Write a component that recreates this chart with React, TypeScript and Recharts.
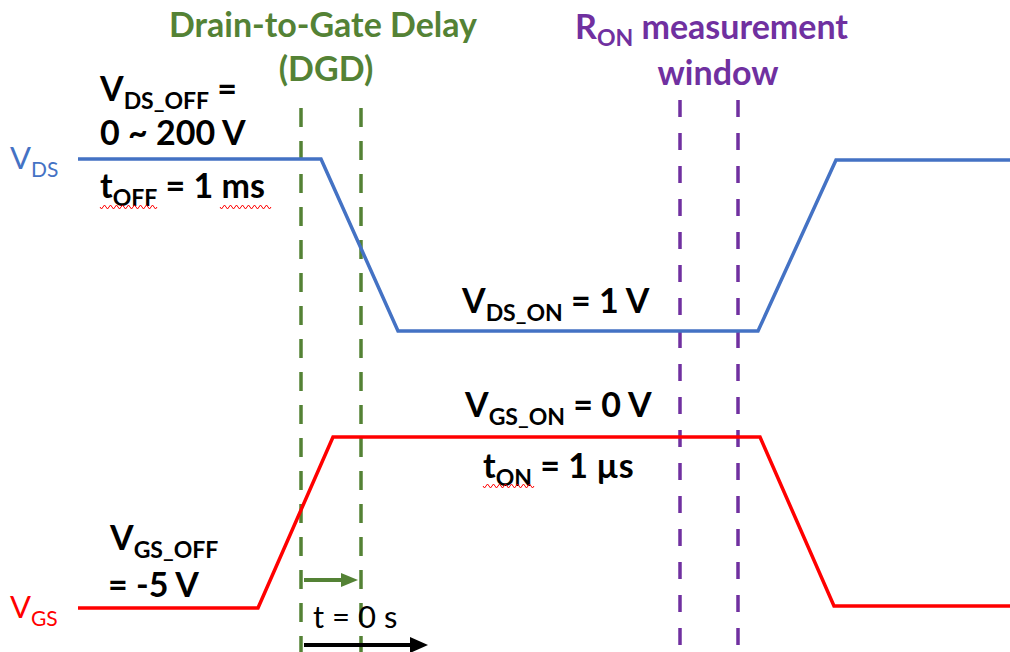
import { LineChart, Line, XAxis, YAxis, ReferenceLine, ReferenceDot } from 'recharts';

// waveform corners: time position / level
const vdsTime = [78, 321, 398, 758, 836, 1010];
const vdsLevel = [493, 493, 321, 321, 492, 492];
const vgsTime = [78, 258, 333, 760, 834, 1010];
const vgsLevel = [44, 44, 215, 215, 46, 46];

// dashed markers
const dgdEdges = [301, 361];
const ronEdges = [680, 738];

const vdsData = vdsTime.map((t, i) => ({ t, v: vdsLevel[i] }));
const vgsData = vgsTime.map((t, i) => ({ t, v: vgsLevel[i] }));

const BLUE = '#4472C4';
const RED = '#FF0000';
const GREEN = '#548235';
const PURPLE = '#7030A0';
const FONT = 'Lato, "Open Sans", sans-serif';

type Part = { t: string; sub?: boolean };

const Tag = (props: any) => {
	const { cx, cy, parts, color = '#000', size = 34, sub = 23, drop = 8, weight = 700, anchor = 'start' } = props;
	const out: any[] = [];
	let low = false;
	parts.forEach((p: Part, i: number) => {
		let dy = 0;
		if (p.sub && !low) dy = drop;
		if (!p.sub && low) dy = -drop;
		low = !!p.sub;
		out.push(
			<tspan key={i} dy={dy} fontSize={p.sub ? sub : size}>
				{p.t}
			</tspan>
		);
	});
	return (
		<text
			x={cx}
			y={cy}
			fill={color}
			fontFamily={FONT}
			fontWeight={weight}
			fontSize={size}
			textAnchor={anchor}
			style={{ whiteSpace: 'pre' }}
		>
			{out}
		</text>
	);
};

const Squiggle = (props: any) => {
	const { cx, cy, w } = props;
	let d = `M${cx},${cy}`;
	for (let i = 0; i < w; i += 3) d += ` l1.5,${(i / 3) % 2 === 0 ? 2 : -2} l1.5,${(i / 3) % 2 === 0 ? -2 : 2}`;
	return <path d={d} fill="none" stroke={RED} strokeWidth={1} />;
};

const Arrow = (props: any) => {
	const { x1, y1, x2, color, head = 17, half = 7, width = 4 } = props;
	return (
		<g>
			<line x1={x1} y1={y1} x2={x2 - head + 2} y2={y1} stroke={color} strokeWidth={width} />
			<polygon points={`${x2},${y1} ${x2 - head},${y1 - half} ${x2 - head},${y1 + half}`} fill={color} />
		</g>
	);
};

const labels: { x: number; y: number; parts: Part[]; color?: string; size?: number; sub?: number; drop?: number; weight?: number; anchor?: string }[] = [
	{ x: 323, y: 615, parts: [{ t: 'Drain-to-Gate Delay' }], color: GREEN, size: 34, anchor: 'middle' },
	{ x: 326, y: 571, parts: [{ t: '(DGD)' }], color: GREEN, size: 34, anchor: 'middle' },
	{ x: 575, y: 613, parts: [{ t: 'R' }, { t: 'ON', sub: true }, { t: ' measurement' }], color: PURPLE, size: 34, sub: 23, drop: 7 },
	{ x: 718, y: 567, parts: [{ t: 'window' }], color: PURPLE, size: 34, anchor: 'middle' },
	{ x: 10, y: 483, parts: [{ t: 'V' }, { t: 'DS', sub: true }], color: BLUE, size: 31, sub: 21, weight: 400 },
	{ x: 10, y: 34, parts: [{ t: 'V' }, { t: 'GS', sub: true }], color: RED, size: 31, sub: 21, weight: 400 },
	{ x: 100, y: 551, parts: [{ t: 'V' }, { t: 'DS_OFF', sub: true }, { t: ' =' }] },
	{ x: 100, y: 507, parts: [{ t: '0 ~ 200 V' }] },
	{ x: 100, y: 454, parts: [{ t: 't' }, { t: 'OFF', sub: true }, { t: ' = 1 ms' }] },
	{ x: 462, y: 339, parts: [{ t: 'V' }, { t: 'DS_ON', sub: true }, { t: ' = 1 V' }] },
	{ x: 465, y: 235, parts: [{ t: 'V' }, { t: 'GS_ON', sub: true }, { t: ' = 0 V' }] },
	{ x: 483, y: 174, parts: [{ t: 't' }, { t: 'ON', sub: true }, { t: ' = 1 µs' }] },
	{ x: 110, y: 102, parts: [{ t: 'V' }, { t: 'GS_OFF', sub: true }] },
	{ x: 108, y: 55, parts: [{ t: '= -5 V' }] },
	{ x: 313, y: 24, parts: [{ t: 't = 0 s' }], size: 31, weight: 400 },
];

// spell-check underlines
const squiggles = [
	{ x: 100, y: 445, w: 57 },
	{ x: 220, y: 445, w: 50 },
	{ x: 483, y: 166, w: 51 },
];

const App = () => {
	return (
		<div style={{ position: 'absolute', left: 0, top: 0 }}>
			<LineChart width={1010} height={652} margin={{ top: 0, right: 0, bottom: 0, left: 0 }}>
				<XAxis type="number" dataKey="t" domain={[0, 1010]} hide allowDataOverflow />
				<YAxis type="number" domain={[0, 652]} hide allowDataOverflow />
				{dgdEdges.map((x) => (
					<ReferenceLine
						key={'g' + x}
						segment={[{ x, y: 544 }, { x, y: 0 }]}
						stroke={GREEN}
						strokeWidth={3.5}
						strokeDasharray="19 14"
					/>
				))}
				{ronEdges.map((x) => (
					<ReferenceLine
						key={'p' + x}
						segment={[{ x, y: 552 }, { x, y: 0 }]}
						stroke={PURPLE}
						strokeWidth={3.5}
						strokeDasharray="17 16"
					/>
				))}
				<Line
					data={vdsData}
					dataKey="v"
					type="linear"
					stroke={BLUE}
					strokeWidth={3.5}
					strokeLinecap="butt"
					dot={false}
					activeDot={false}
					isAnimationActive={false}
				/>
				<Line
					data={vgsData}
					dataKey="v"
					type="linear"
					stroke={RED}
					strokeWidth={3.5}
					strokeLinecap="butt"
					dot={false}
					activeDot={false}
					isAnimationActive={false}
				/>
				<ReferenceLine
					segment={[{ x: dgdEdges[0] + 3, y: 72 }, { x: dgdEdges[1] - 3, y: 72 }]}
					shape={(p: any) => <Arrow {...p} color={GREEN} head={17} half={7} width={4} />}
				/>
				<ReferenceLine
					segment={[{ x: dgdEdges[0] + 3, y: 7 }, { x: 428, y: 7 }]}
					shape={(p: any) => <Arrow {...p} color="#000" head={18} half={8} width={4} />}
				/>
				{labels.map((l, i) => (
					<ReferenceDot
						key={'l' + i}
						x={l.x}
						y={l.y}
						r={0}
						shape={(p: any) => <Tag {...p} {...l} />}
					/>
				))}
				{squiggles.map((s, i) => (
					<ReferenceDot key={'s' + i} x={s.x} y={s.y} r={0} shape={(p: any) => <Squiggle {...p} w={s.w} />} />
				))}
			</LineChart>
		</div>
	);
};

export default App;
